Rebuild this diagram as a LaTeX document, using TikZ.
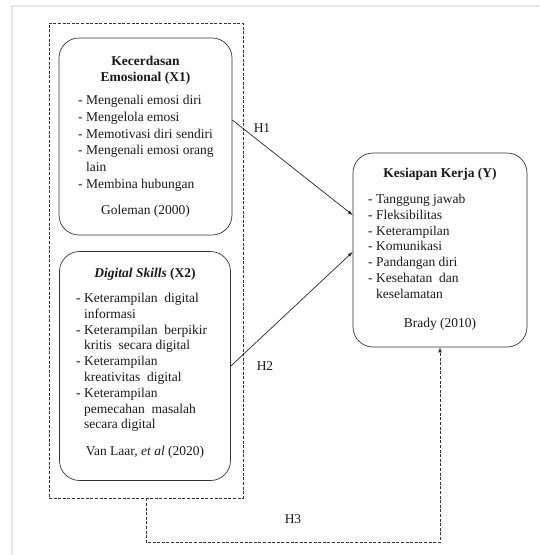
\documentclass[tikz,border=0pt]{standalone}
\usepackage{fontspec}
\setmainfont{Liberation Serif}
\usetikzlibrary{positioning}

\begin{document}
\begin{tikzpicture}
                    [x=1pt,y=-1pt,>=latex,
                     box/.style={draw=black!80,rounded corners=20pt,line width=0.7pt,inner sep=0pt},
                     frm/.style={draw=black!80,line width=0.7pt,dash pattern=on 3pt off 1.6pt},
                     txt/.style={font=\fontsize{13.5}{15.8}\selectfont,inner sep=0pt,text=black!90},
                     lst/.style={txt,align=left,anchor=north west}]

                \useasboundingbox (0,0) rectangle (539,555);
                \draw[gray!20,line width=2pt] (11.5,555) -- (11.5,5.5) -- (539,5.5);

                % dashed frame round X1 and X2
                \node[frm,minimum width=194pt,minimum height=475pt,inner sep=0pt] (frame) at (146,260.5) {};

                % the three boxes
                \node[box,minimum width=173pt,minimum height=197pt] (emo) at (145.5,136.5) {};
                \node[box,minimum width=171pt,minimum height=229pt] (dig) at (145,366) {};
                \node[box,minimum width=174pt,minimum height=194pt] (kerja) at (440,250) {};

                \node[txt,align=center,anchor=north] (emot) at (145.5,56) {\textbf{Kecerdasan}\\\textbf{Emosional (X1)}};
                \node[lst,font=\fontsize{13.5}{16.8}\selectfont] (emol) at (78,95) {- Mengenali emosi diri\\- Mengelola emosi\\- Memotivasi diri sendiri\\- Mengenali emosi orang\\\phantom{- }lain\\- Membina hubungan};
                \node[txt,anchor=base] (emoc) at (145.5,214) {Goleman (2000)};

                \node[txt,anchor=base] (digt) at (145,277) {\textbf{\textit{Digital Skills} (X2)}};
                \node[lst] (digl) at (76,293) {- Keterampilan\ \ digital\\\phantom{- }informasi\\- Keterampilan\ \ berpikir\\\phantom{- }kritis\ \ secara digital\\- Keterampilan\\\phantom{- }kreativitas\ \ digital\\- Keterampilan\\\phantom{- }pemecahan\ \ masalah\\\phantom{- }secara digital};
                \node[txt,anchor=base] (digc) at (145,455) {Van Laar, \textit{et al} (2020)};

                \node[txt,anchor=base] (kerjat) at (440,177) {\textbf{Kesiapan Kerja (Y)}};
                \node[lst] (kerjal) at (368,194) {- Tanggung jawab\\- Fleksibilitas\\- Keterampilan\\- Komunikasi\\- Pandangan diri\\- Kesehatan\ \ dan\\\phantom{- }keselamatan};
                \node[txt,anchor=base] (kerjac) at (440,327) {Brady (2010)};

                % hypotheses
                \draw[->,black!85,line width=0.7pt] ([yshift=16.5pt]emo.east) -- ([yshift=35pt]kerja.west);
                \draw[->,black!85,line width=0.7pt] (dig.east) -- ([yshift=-2pt]kerja.west);
                \draw[->,frm] (frame.south) -- ++(0,44) -| (kerja.south);

                \node[txt] (h1) at (262,128) {H1};
                \node[txt] (h2) at (265,366) {H2};
                \node[txt] (h3) at (293,519) {H3};

                \end{tikzpicture}
\end{document}
